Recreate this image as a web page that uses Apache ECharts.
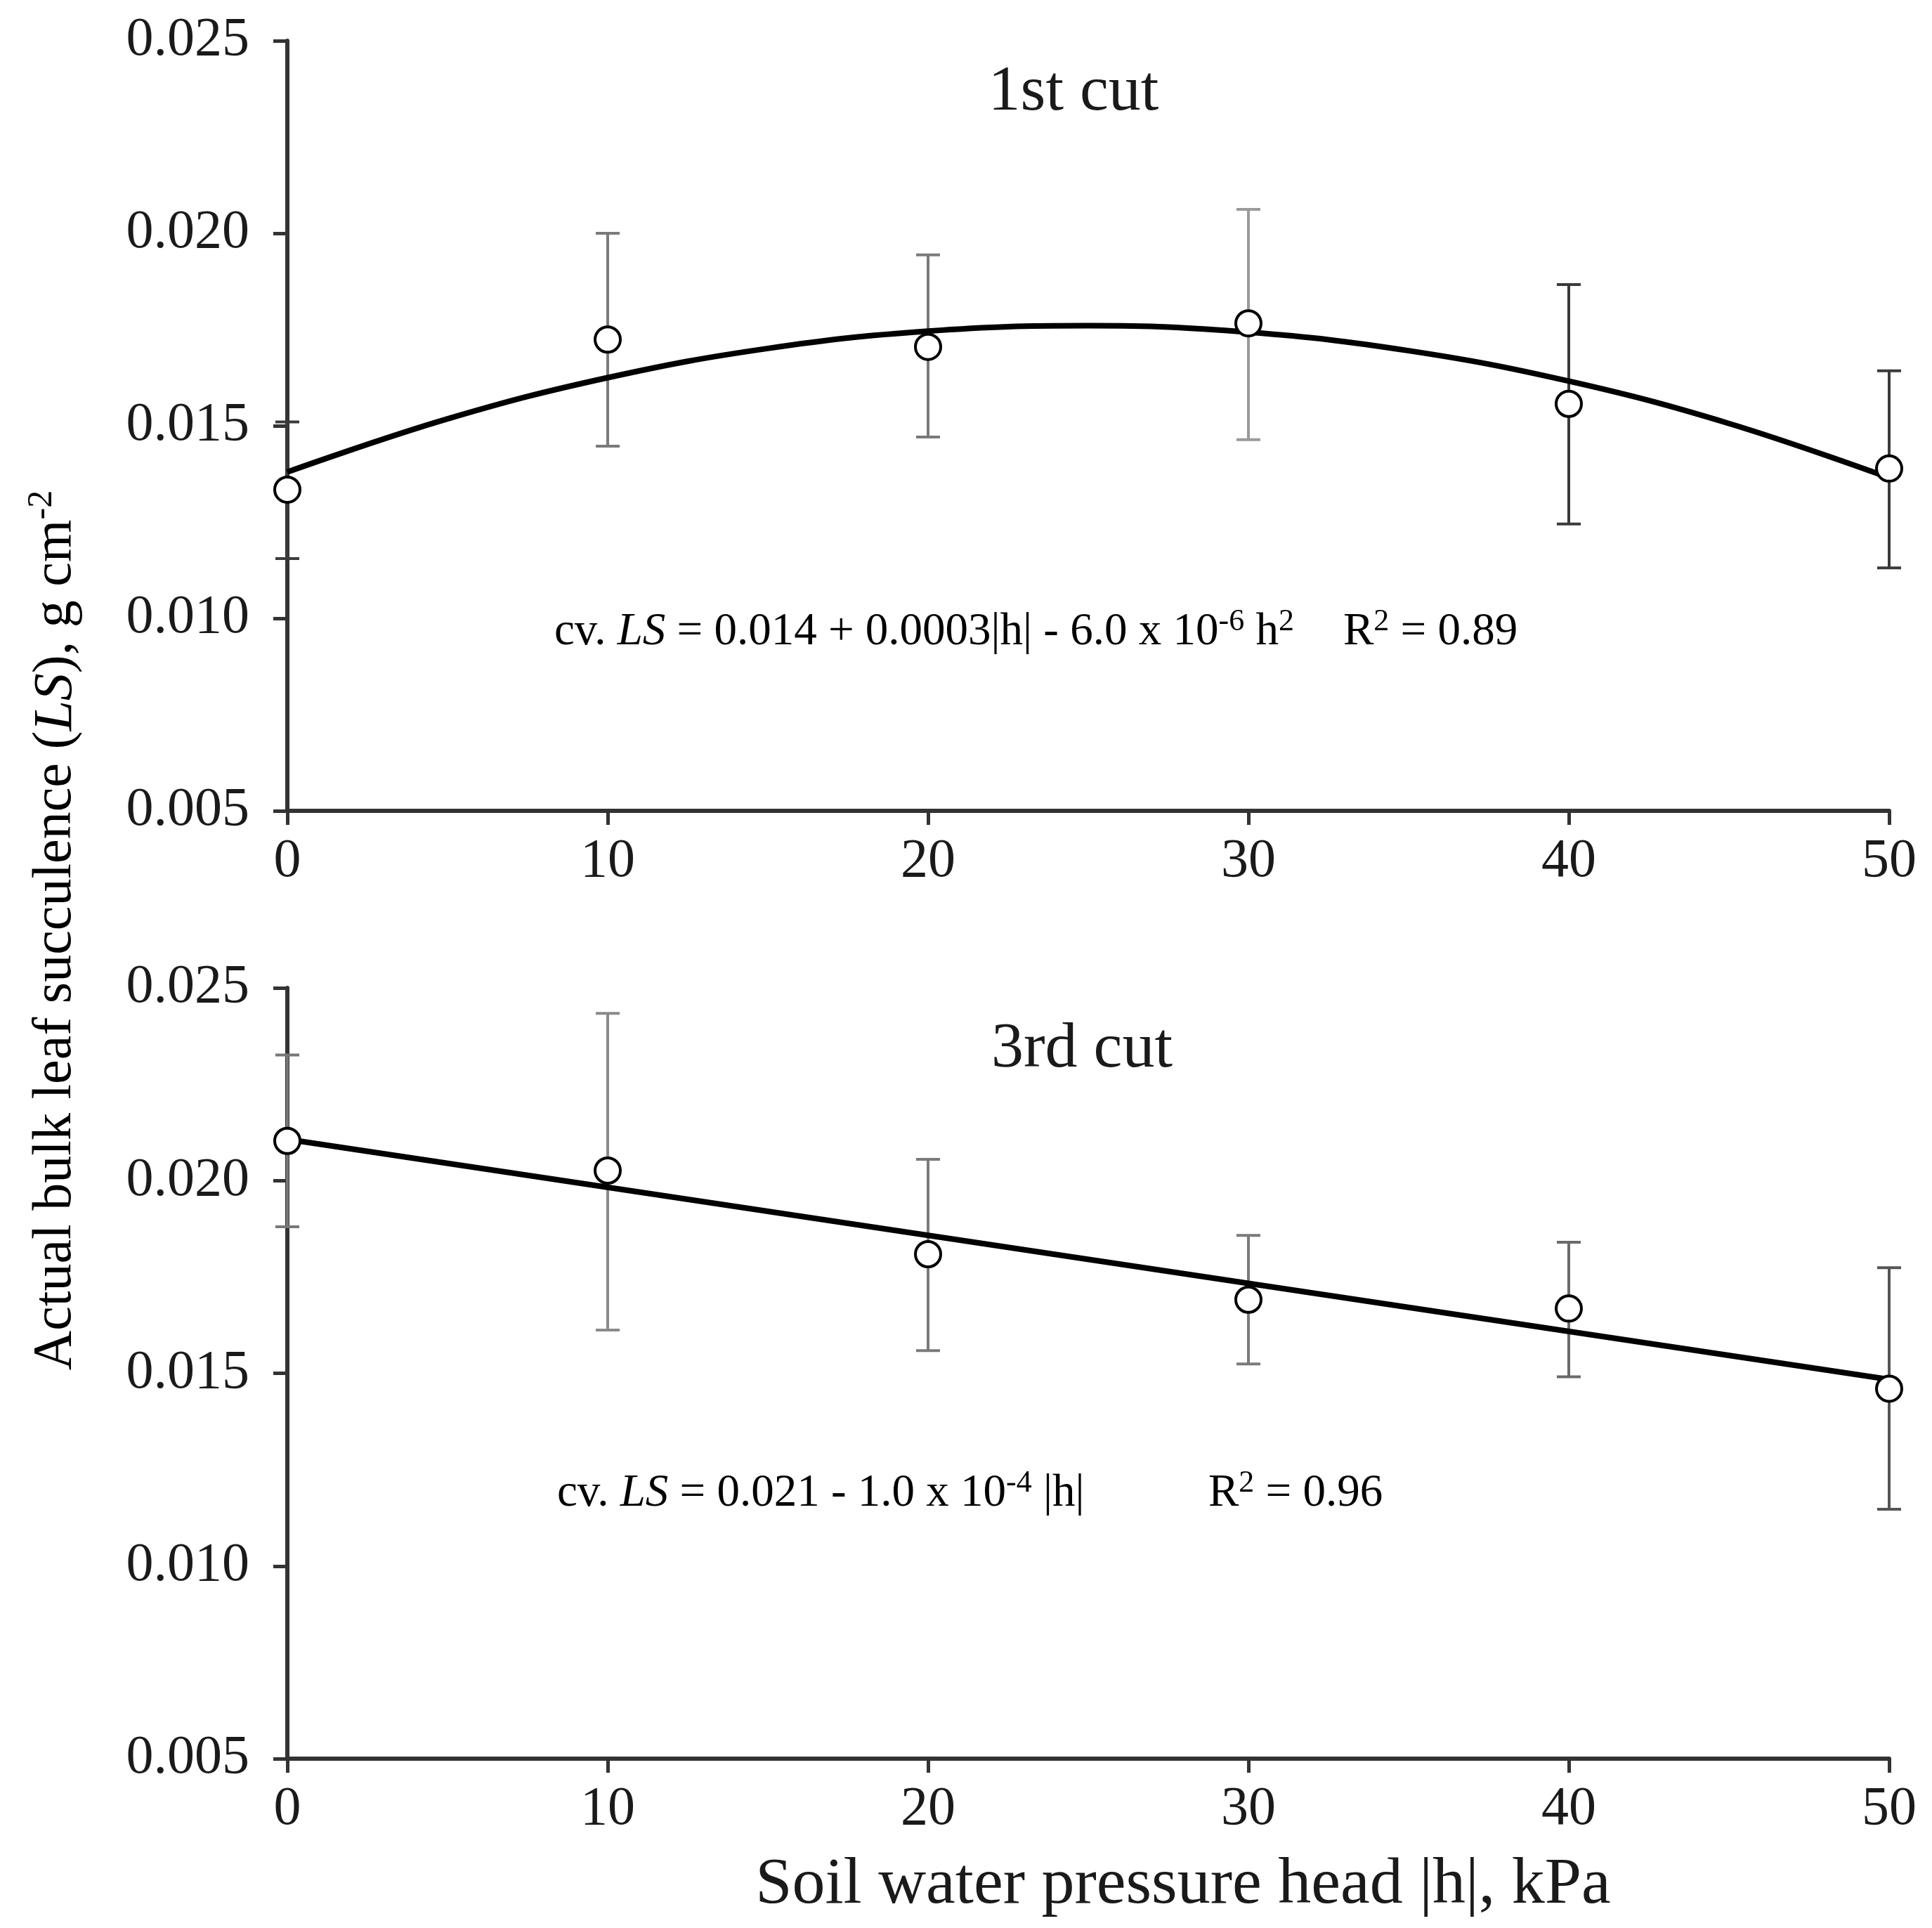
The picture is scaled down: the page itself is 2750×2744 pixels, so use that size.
<!DOCTYPE html>
<html>
<head>
<meta charset="utf-8">
<script src="https://cdn.jsdelivr.net/npm/echarts@6/dist/echarts.min.js"></script>
<style>
html,body{margin:0;padding:0;background:#fff;}
#chart{width:2750px;height:2744px;}
</style>
</head>
<body>
<div id="chart"></div>
<script>
// ---- data ----
const hValues = [0, 10, 20, 30, 40, 50];
const xTicks = [0, 10, 20, 30, 40, 50];
const yTicks = [0.005, 0.010, 0.015, 0.020, 0.025];

// 1st cut
const cut1Mean  = [0.01334, 0.01724, 0.01705, 0.01766, 0.01557, 0.01389];
const cut1Upper = [0.01510, 0.02000, 0.01944, 0.02062, 0.01867, 0.01643];
const cut1Lower = [0.01155, 0.01447, 0.01471, 0.01464, 0.01245, 0.01131];
const cut1FitH  = [0, 5, 10, 15, 20, 25, 30, 35, 40, 45, 50];
const cut1FitLS = [0.01380, 0.01518, 0.01625, 0.01701, 0.01746, 0.01760, 0.01743, 0.01695, 0.01616, 0.01506, 0.01365];

// 3rd cut
const cut3Mean  = [0.02103, 0.02026, 0.01809, 0.01691, 0.01668, 0.01460];
const cut3Upper = [0.02326, 0.02434, 0.02055, 0.01858, 0.01840, 0.01774];
const cut3Lower = [0.01880, 0.01612, 0.01559, 0.01524, 0.01491, 0.01147];
const cut3FitH  = [0, 50];
const cut3FitLS = [0.02107, 0.01484];

const panelTitles = ['1st cut', '3rd cut'];
const xAxisTitle = 'Soil water pressure head |h|, kPa';

// error bar colours (styles)
const cut1BarColors = ['#3a3a3a', '#7a7a7a', '#7a7a7a', '#9a9a9a', '#3a3a3a', '#3a3a3a'];
const cut3BarColors = ['#777777', '#8a8a8a', '#7a7a7a', '#7a7a7a', '#6a6a6a', '#555555'];

const FONT = '"Liberation Serif", "Times New Roman", serif';
const TXT = '#1a1a1a';
const AX = '#333333';

function errRender(colors) {
  return function (params, api) {
    const x = api.value(0);
    const lo = api.coord([x, api.value(1)]);
    const hi = api.coord([x, api.value(2)]);
    const cap = 17;
    const style = { stroke: colors[params.dataIndex], lineWidth: 4 };
    return {
      type: 'group',
      children: [
        { type: 'line', shape: { x1: lo[0], y1: lo[1], x2: hi[0], y2: hi[1] }, style: style },
        { type: 'line', shape: { x1: lo[0] - cap, y1: lo[1], x2: lo[0] + cap, y2: lo[1] }, style: style },
        { type: 'line', shape: { x1: hi[0] - cap, y1: hi[1], x2: hi[0] + cap, y2: hi[1] }, style: style }
      ]
    };
  };
}

function xAxisCfg(gi) {
  return {
    type: 'value', gridIndex: gi, min: xTicks[0], max: xTicks[xTicks.length - 1], interval: 10,
    axisLine: { show: true, onZero: false, lineStyle: { color: AX, width: 6 } },
    axisTick: { show: true, inside: false, length: 20, lineStyle: { color: AX, width: 5 } },
    axisLabel: { show: true, margin: 34, color: TXT, fontFamily: FONT, fontSize: 78 },
    splitLine: { show: false }
  };
}
function yAxisCfg(gi) {
  return {
    type: 'value', gridIndex: gi, min: yTicks[0], max: yTicks[yTicks.length - 1], interval: 0.005,
    axisLine: { show: true, onZero: false, lineStyle: { color: AX, width: 6 } },
    axisTick: { show: true, inside: false, length: 20, lineStyle: { color: AX, width: 5 } },
    axisLabel: { show: true, margin: 54, color: TXT, fontFamily: FONT, fontSize: 78,
      formatter: function (v) { return v.toFixed(3); } },
    splitLine: { show: false }
  };
}

const chart = echarts.init(document.getElementById('chart'), null, { renderer: 'canvas' });

const eqRich = {
  n: { fontFamily: FONT, fontSize: 65, color: TXT, lineHeight: 74 },
  i: { fontFamily: FONT, fontSize: 65, color: TXT, fontStyle: 'italic', lineHeight: 74 },
  s: { fontFamily: FONT, fontSize: 44, color: TXT, verticalAlign: 'top', lineHeight: 40 }
};
const titleRich = {
  n: { fontFamily: FONT, fontSize: 78, color: TXT, lineHeight: 90 },
  i: { fontFamily: FONT, fontSize: 78, color: TXT, fontStyle: 'italic', lineHeight: 90 },
  s: { fontFamily: FONT, fontSize: 50, color: TXT, verticalAlign: 'top', lineHeight: 50 }
};

const option = {
  backgroundColor: '#ffffff',
  animation: false,
  grid: [
    { left: 409, top: 58, width: 2280, height: 1096 },
    { left: 409, top: 1406, width: 2280, height: 1097 }
  ],
  xAxis: [xAxisCfg(0), xAxisCfg(1)],
  yAxis: [yAxisCfg(0), yAxisCfg(1)],
  series: [
    { type: 'custom', xAxisIndex: 0, yAxisIndex: 0, renderItem: errRender(cut1BarColors),
      data: hValues.map((h, k) => [h, cut1Lower[k], cut1Upper[k]]), z: 2, clip: false },
    { type: 'line', xAxisIndex: 0, yAxisIndex: 0, smooth: 0.4, showSymbol: false, clip: false,
      lineStyle: { color: '#000', width: 8 }, data: cut1FitH.map((h, k) => [h, cut1FitLS[k]]), z: 3 },
    { type: 'scatter', xAxisIndex: 0, yAxisIndex: 0, symbol: 'circle', symbolSize: 36, clip: false,
      itemStyle: { color: '#fff', borderColor: '#000', borderWidth: 4, opacity: 1 },
      data: hValues.map((h, k) => [h, cut1Mean[k]]), z: 4 },

    { type: 'custom', xAxisIndex: 1, yAxisIndex: 1, renderItem: errRender(cut3BarColors),
      data: hValues.map((h, k) => [h, cut3Lower[k], cut3Upper[k]]), z: 2, clip: false },
    { type: 'line', xAxisIndex: 1, yAxisIndex: 1, showSymbol: false, clip: false,
      lineStyle: { color: '#000', width: 8 }, data: cut3FitH.map((h, k) => [h, cut3FitLS[k]]), z: 3 },
    { type: 'scatter', xAxisIndex: 1, yAxisIndex: 1, symbol: 'circle', symbolSize: 36, clip: false,
      itemStyle: { color: '#fff', borderColor: '#000', borderWidth: 4, opacity: 1 },
      data: hValues.map((h, k) => [h, cut3Mean[k]]), z: 4 }
  ],
  graphic: [
    { type: 'text', position: [1528, 132], style: { text: panelTitles[0], font: '92px ' + FONT,
      fill: TXT, textAlign: 'center', textVerticalAlign: 'middle' } },
    { type: 'text', position: [1540, 1494], style: { text: panelTitles[1], font: '92px ' + FONT,
      fill: TXT, textAlign: 'center', textVerticalAlign: 'middle' } },
    { type: 'text', position: [1684, 2683], style: { text: xAxisTitle, font: '94px ' + FONT,
      fill: TXT, textAlign: 'center', textVerticalAlign: 'middle' } },
    { type: 'text', position: [80, 1324], rotation: Math.PI / 2,
      style: { text: '{n|Actual bulk leaf succulence (}{i|LS}{n|), g cm}{s|-2}', rich: titleRich,
        textAlign: 'center', textVerticalAlign: 'middle' } },
    { type: 'text', position: [789, 900],
      style: { text: '{n|cv. }{i|LS}{n| = 0.014 + 0.0003|h| - 6.0 x 10}{s|-6}{n| h}{s|2}', rich: eqRich,
        textAlign: 'left', textVerticalAlign: 'middle' } },
    { type: 'text', position: [1912, 900],
      style: { text: '{n|R}{s|2}{n| = 0.89}', rich: eqRich, textAlign: 'left', textVerticalAlign: 'middle' } },
    { type: 'text', position: [793, 2126],
      style: { text: '{n|cv. }{i|LS}{n| = 0.021 - 1.0 x 10}{s|-4}{n| |h|}', rich: eqRich,
        textAlign: 'left', textVerticalAlign: 'middle' } },
    { type: 'text', position: [1720, 2126],
      style: { text: '{n|R}{s|2}{n| = 0.96}', rich: eqRich, textAlign: 'left', textVerticalAlign: 'middle' } }
  ]
};
chart.setOption(option);
</script>
</body>
</html>
